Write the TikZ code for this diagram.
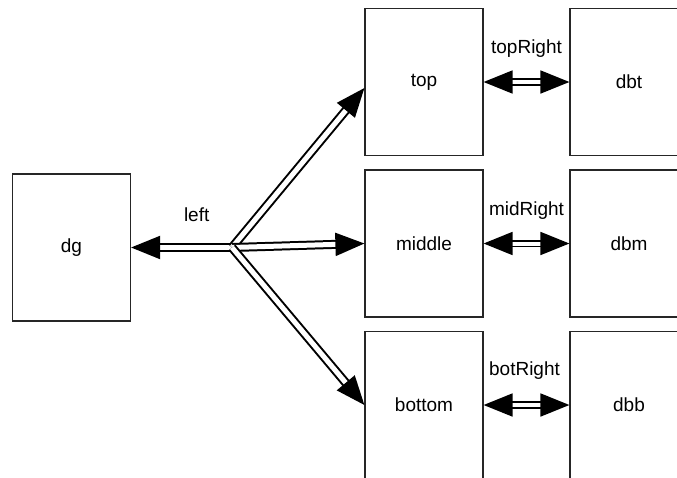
\documentclass[tikz,border=0pt]{standalone}
\usepackage{fontspec}
\setmainfont{Liberation Sans}
\usetikzlibrary{arrows.meta}
\tikzset{bigtip/.tip={Triangle[length=29pt, width=23pt]}}
\begin{document}
\begin{tikzpicture}[x=1pt,y=-1pt,
  box/.style={draw=black!85, line width=1.2pt, fill=white, minimum width=118pt,
    minimum height=147pt, inner sep=0pt, font=\fontsize{19}{22}\selectfont},
  dbl/.style={double=white, draw=black, line width=2pt, double distance=5pt},
  thindbl/.style={double=white, draw=black, line width=1.8pt, double distance=4pt},
  lbl/.style={font=\fontsize{19}{22}\selectfont, inner sep=0pt}]
  \useasboundingbox (0,0) rectangle (677,477);
  \clip (0,0) rectangle (677,477);
  % boxes
  \node[box] (dg)     at (71.5,247.5) {dg};
  \node[box] (top)    at (424,82)     {top};
  \node[box] (middle) at (424,243.5)  {middle};
  \node[box] (bottom) at (424,405)    {bottom};
  \node[box] (dbt)    at (629,82)     {dbt};
  \node[box] (dbm)    at (629,243.5)  {dbm};
  \node[box] (dbb)    at (629,405)    {dbb};
  % fan-out junction
  \coordinate (J) at (232,247.5);
  \draw[dbl, -{bigtip}] (J) -- (dg.east)
    node[lbl, pos=0.35, yshift=33pt] {left};
  \draw[dbl, -{bigtip}] (J) -- ([yshift=-6pt]top.west);
  \draw[dbl, -{bigtip}] (J) -- (middle.west);
  \draw[dbl, -{bigtip}] (J) -- (bottom.west);
  % right-hand links
  \draw[thindbl, {bigtip}-{bigtip}] (top.east) -- (dbt.west)
    node[lbl, midway, yshift=33pt] {topRight};
  \draw[thindbl, {bigtip}-{bigtip}] (middle.east) -- (dbm.west)
    node[lbl, midway, yshift=33pt] {midRight};
  \draw[thindbl, {bigtip}-{bigtip}] (bottom.east) -- (dbb.west)
    node[lbl, midway, xshift=-2pt, yshift=34pt] {botRight};
\end{tikzpicture}
\end{document}
